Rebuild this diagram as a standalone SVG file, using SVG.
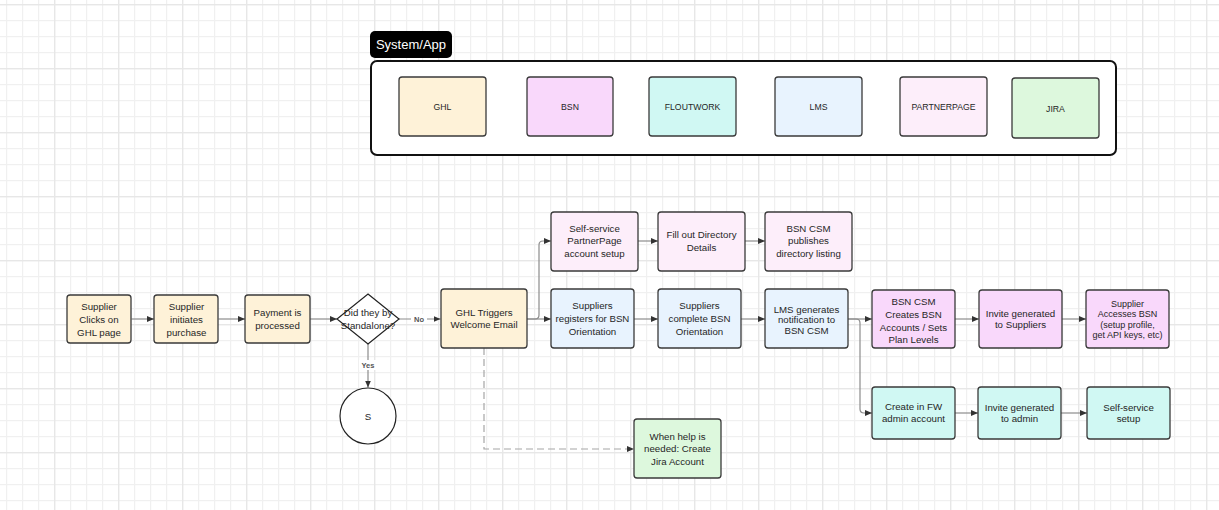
<svg xmlns="http://www.w3.org/2000/svg" width="1219" height="510" viewBox="0 0 1219 510">
<defs>
<pattern id="grid" patternUnits="userSpaceOnUse" x="-10" y="4" width="64" height="64">
<rect x="0" y="0" width="64" height="64" fill="#ffffff"/>
<rect x="16" y="0" width="1.2" height="64" fill="#f0f0f0"/>
<rect x="32" y="0" width="1.2" height="64" fill="#f0f0f0"/>
<rect x="48" y="0" width="1.2" height="64" fill="#f0f0f0"/>
<rect x="0" y="16" width="64" height="1.2" fill="#f0f0f0"/>
<rect x="0" y="32" width="64" height="1.2" fill="#f0f0f0"/>
<rect x="0" y="48" width="64" height="1.2" fill="#f0f0f0"/>
<rect x="0" y="0" width="1.4" height="64" fill="#e7e7e7"/>
<rect x="0" y="0" width="64" height="1.4" fill="#e7e7e7"/>
</pattern>
<marker id="arr" markerUnits="userSpaceOnUse" markerWidth="7" markerHeight="6" refX="7" refY="3" orient="auto">
<path d="M0,0 L7,3 L0,6 z" fill="#333"/>
</marker>
</defs>
<style>
.box{stroke:#3a3a3a;stroke-width:1.3}
.t{font-family:"Liberation Sans",Arial,sans-serif;font-size:9.7px;fill:#262626;text-anchor:middle}
.s{font-size:9px}
.lg{font-family:"Liberation Sans",Arial,sans-serif;font-size:8.7px;fill:#262626;text-anchor:middle}
.lbl{font-family:"Liberation Sans",Arial,sans-serif;font-size:7.5px;fill:#555;text-anchor:middle;font-weight:bold}
.c{fill:none;stroke:#8c8c8c;stroke-width:1.2;marker-end:url(#arr)}
.d{fill:none;stroke:#a6a6a6;stroke-width:1.2;stroke-dasharray:7 4;marker-end:url(#arr)}
.ghl{fill:#fef2d8}
.bsn{fill:#f9d8fb}
.fw{fill:#d0f8f3}
.lms{fill:#e8f3fe}
.pp{fill:#fdeefa}
.jira{fill:#ddf8dd}
</style>
<rect x="0" y="0" width="1219" height="510" fill="url(#grid)"/>

<g id="legend">
<rect x="370" y="31" width="82" height="27" rx="5" fill="#000"/>
<text x="411" y="49" font-family="Liberation Sans, Arial, sans-serif" font-size="13" fill="#fff" text-anchor="middle">System/App</text>
<rect x="371" y="61" width="745" height="94" rx="6" fill="#fff" stroke="#111" stroke-width="2"/>
<g id="lg-ghl"><rect class="box ghl" x="399" y="77" width="87" height="59" rx="3"/><text class="lg" x="442.5" y="109.5">GHL</text></g>
<g id="lg-bsn"><rect class="box bsn" x="527" y="77" width="86" height="59" rx="3"/><text class="lg" x="570" y="109.5">BSN</text></g>
<g id="lg-fw"><rect class="box fw" x="649" y="77" width="87" height="59" rx="3"/><text class="lg" x="692.5" y="109.5">FLOUTWORK</text></g>
<g id="lg-lms"><rect class="box lms" x="775" y="77" width="87" height="59" rx="3"/><text class="lg" x="818.5" y="109.5">LMS</text></g>
<g id="lg-pp"><rect class="box pp" x="900" y="77" width="87" height="59" rx="3"/><text class="lg" x="943.5" y="109.5">PARTNERPAGE</text></g>
<g id="lg-jira"><rect class="box jira" x="1012" y="78" width="87" height="60" rx="3"/><text class="lg" x="1055.5" y="112">JIRA</text></g>
</g>

<g id="connectors">
<path class="c" d="M131.5,319 H154"/>
<path class="c" d="M218.5,319 H245"/>
<path class="c" d="M309.5,319 H337"/>
<path class="c" d="M399,319 H440.5"/>
<path class="c" d="M368,344 V387.5"/>
<path class="c" d="M527,319 H551"/>
<path class="c" d="M527,319 H535 Q539,319 539,315 V245 Q539,241 543,241 H551"/>
<path class="c" d="M638,241 H658"/>
<path class="c" d="M745,241 H765"/>
<path class="c" d="M634,319 H658"/>
<path class="c" d="M741,319 H765"/>
<path class="c" d="M848,319 H872"/>
<path class="c" d="M848,319 H856 Q860,319 860,323 V409 Q860,413 864,413 H872"/>
<path class="c" d="M955,319 H979"/>
<path class="c" d="M1062,319 H1086"/>
<path class="c" d="M955,413 H978"/>
<path class="c" d="M1061,413 H1087"/>
<path class="d" d="M484,348 V449 H634"/>
<rect x="411" y="314" width="16" height="10" fill="#fff"/>
<text class="lbl" x="419" y="322">No</text>
<rect x="359" y="360" width="18" height="10" fill="#fff"/>
<text class="lbl" x="368" y="368">Yes</text>
</g>

<g id="n-clicks"><rect class="box ghl" x="67" y="295" width="64" height="48" rx="3"/>
<text class="t"><tspan x="99" y="310">Supplier</tspan><tspan x="99" y="322.8">Clicks on</tspan><tspan x="99" y="335.6">GHL page</tspan></text></g>
<g id="n-initiates"><rect class="box ghl" x="154" y="295" width="64" height="48" rx="3"/>
<text class="t"><tspan x="186.5" y="310">Supplier</tspan><tspan x="186.5" y="322.8">initiates</tspan><tspan x="186.5" y="335.6">purchase</tspan></text></g>
<g id="n-payment"><rect class="box ghl" x="245" y="295" width="65" height="48" rx="3"/>
<text class="t"><tspan x="277.5" y="316">Payment is</tspan><tspan x="277.5" y="328.8">processed</tspan></text></g>
<g id="n-decision"><polygon points="368,294 399,319 368,344 337,319" fill="#fff" stroke="#222" stroke-width="1.2"/>
<text class="t"><tspan x="368" y="316">Did they by</tspan><tspan x="368" y="329.3">Standalone?</tspan></text></g>
<g id="n-s"><circle cx="368" cy="416" r="28" fill="#fff" stroke="#222" stroke-width="1.2"/>
<text class="t" x="368" y="419.5">S</text></g>
<g id="n-ghl-email"><rect class="box ghl" x="441" y="289" width="86" height="59" rx="3"/>
<text class="t"><tspan x="484" y="315.7">GHL Triggers</tspan><tspan x="484" y="328.4">Welcome Email</tspan></text></g>
<g id="n-pp-setup"><rect class="box pp" x="551" y="212" width="87" height="59" rx="3"/>
<text class="t"><tspan x="594.5" y="231.7">Self-service</tspan><tspan x="594.5" y="244.4">PartnerPage</tspan><tspan x="594.5" y="257.1">account setup</tspan></text></g>
<g id="n-directory"><rect class="box pp" x="658" y="212" width="87" height="59" rx="3"/>
<text class="t"><tspan x="701.5" y="238">Fill out Directory</tspan><tspan x="701.5" y="250.7">Details</tspan></text></g>
<g id="n-publish"><rect class="box pp" x="765" y="212" width="87" height="59" rx="3"/>
<text class="t"><tspan x="808.5" y="231.7">BSN CSM</tspan><tspan x="808.5" y="244.4">publishes</tspan><tspan x="808.5" y="257.1">directory listing</tspan></text></g>
<g id="n-register"><rect class="box lms" x="551" y="289" width="83" height="59" rx="3"/>
<text class="t"><tspan x="592.5" y="309">Suppliers</tspan><tspan x="592.5" y="321.8">registers for BSN</tspan><tspan x="592.5" y="334.6">Orientation</tspan></text></g>
<g id="n-complete"><rect class="box lms" x="658" y="289" width="83" height="59" rx="3"/>
<text class="t"><tspan x="699.5" y="309">Suppliers</tspan><tspan x="699.5" y="321.8">complete BSN</tspan><tspan x="699.5" y="334.6">Orientation</tspan></text></g>
<g id="n-lms-notify"><rect class="box lms" x="765" y="289" width="83" height="59" rx="3"/>
<text class="t"><tspan x="806.5" y="312.6">LMS generates</tspan><tspan x="806.5" y="323.3">notification to</tspan><tspan x="806.5" y="334">BSN CSM</tspan></text></g>
<g id="n-bsn-create"><rect class="box bsn" x="872" y="290" width="83" height="58" rx="3"/>
<text class="t"><tspan x="913.5" y="305">BSN CSM</tspan><tspan x="913.5" y="317.7">Creates BSN</tspan><tspan x="913.5" y="330.5">Accounts / Sets</tspan><tspan x="913.5" y="343.3">Plan Levels</tspan></text></g>
<g id="n-invite-sup"><rect class="box bsn" x="979" y="290" width="83" height="58" rx="3"/>
<text class="t"><tspan x="1020.5" y="317">Invite generated</tspan><tspan x="1020.5" y="327.7">to Suppliers</tspan></text></g>
<g id="n-access"><rect class="box bsn" x="1086" y="290" width="83" height="58" rx="3"/>
<text class="t s"><tspan x="1127.5" y="306.6">Supplier</tspan><tspan x="1127.5" y="317">Accesses BSN</tspan><tspan x="1127.5" y="327.6">(setup profile,</tspan><tspan x="1127.5" y="338">get API keys, etc)</tspan></text></g>
<g id="n-fw-create"><rect class="box fw" x="872" y="387" width="83" height="52" rx="3"/>
<text class="t"><tspan x="913.5" y="410">Create in FW</tspan><tspan x="913.5" y="422">admin account</tspan></text></g>
<g id="n-invite-admin"><rect class="box fw" x="978" y="387" width="83" height="52" rx="3"/>
<text class="t"><tspan x="1019.5" y="411.3">Invite generated</tspan><tspan x="1019.5" y="421.6">to admin</tspan></text></g>
<g id="n-fw-self"><rect class="box fw" x="1087" y="387" width="83" height="52" rx="3"/>
<text class="t"><tspan x="1128.5" y="411.3">Self-service</tspan><tspan x="1128.5" y="422">setup</tspan></text></g>
<g id="n-jira"><rect class="box jira" x="634" y="419" width="87" height="59" rx="3"/>
<text class="t"><tspan x="677.5" y="439.7">When help is</tspan><tspan x="677.5" y="452.4">needed: Create</tspan><tspan x="677.5" y="465">Jira Account</tspan></text></g>
</svg>
